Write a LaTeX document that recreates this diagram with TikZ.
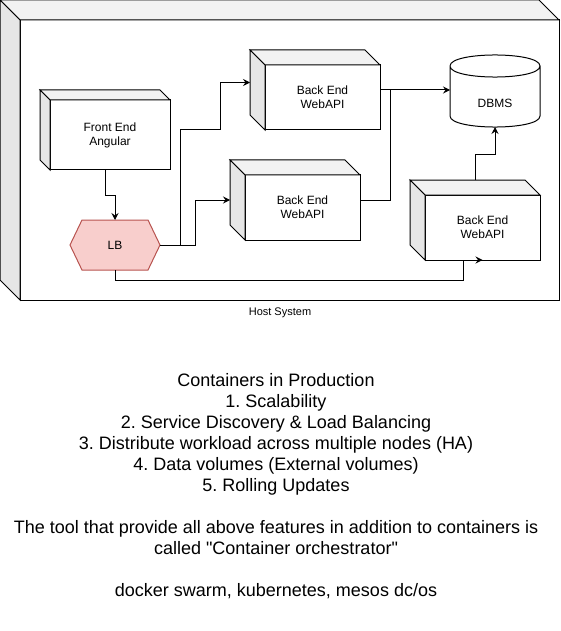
\documentclass[tikz,border=0pt]{standalone}
\usepackage{fontspec}
\setmainfont{Liberation Sans}
\usetikzlibrary{arrows.meta}
\definecolor{cubetop}{HTML}{F2F2F2}
\definecolor{cubeside}{HTML}{E6E6E6}
\definecolor{lbfill}{HTML}{F8CECC}
\definecolor{lbdraw}{HTML}{B85450}
\tikzset{
    face/.style={draw, fill=white, outer sep=0pt, inner sep=0pt, align=center,
        font=\fontsize{12}{14}\selectfont},
    topface/.style={draw, fill=cubetop},
    sideface/.style={draw, fill=cubeside},
    conn/.style={-{Stealth[length=7pt,width=7pt,inset=2.5pt]}},
}
\frenchspacing
\begin{document}
\begin{tikzpicture}[x=1pt, y=-1pt, line width=1pt, line join=miter]
    \useasboundingbox (0,0) rectangle (561,631);
    \node[face, minimum width=539pt, minimum height=280pt] (host) at (289.5,160) {};
    \draw[topface] (host.north west) -- ++(-20,-20) -- ([shift={(-20,-20)}]host.north east) -- (host.north east) -- cycle;
    \draw[sideface] (host.north west) -- ++(-20,-20) -- ([shift={(-20,-20)}]host.south west) -- (host.south west) -- cycle;
    \node[font=\fontsize{11}{13}\selectfont] (hostlbl) at (280,313) {Host System};

    \node[face, minimum width=120pt, minimum height=70pt] (fe) at (110,135) {Front End\\Angular};
    \node[face, minimum width=115pt, minimum height=65pt] (be1) at (322.5,97.5) {Back End\\WebAPI};
    \node[face, minimum width=115pt, minimum height=65pt] (be2) at (302.5,207.5) {Back End\\WebAPI};
    \node[face, minimum width=115pt, minimum height=65pt] (be3) at (482.5,227.5) {Back End\\WebAPI};
    \foreach \n/\d in {fe/10,be1/15,be2/15,be3/15} {
        \draw[topface] (\n.north west) -- ++(-\d,-\d) -- ([shift={(-\d,-\d)}]\n.north east) -- (\n.north east) -- cycle;
        \draw[sideface] (\n.north west) -- ++(-\d,-\d) -- ([shift={(-\d,-\d)}]\n.south west) -- (\n.south west) -- cycle;
    }

    \draw[fill=lbfill, draw=lbdraw]
        (70,245) -- (82,220) -- (148,220) -- (160,245) -- (148,270) -- (82,270) -- cycle;
    \node[font=\fontsize{12}{14}\selectfont, minimum width=90pt, minimum height=50pt, outer sep=0pt] (lb) at (115,245) {LB};

    \draw[fill=white]
        (450,66) -- (450,116) .. controls (450,130.7) and (540,130.7) .. (540,116) -- (540,66)
        .. controls (540,51.3) and (450,51.3) .. (450,66) -- cycle
        (450,66) .. controls (450,80.7) and (540,80.7) .. (540,66);
    \node[minimum width=90pt, minimum height=72pt, outer sep=0pt] (db) at (495,91) {};
    \node[font=\fontsize{12}{14}\selectfont] (dblbl) at (495,103) {DBMS};

    \coordinate (be1in) at ([shift={(-15,-15)}]be1.west);
    \coordinate (be2in) at ([shift={(-15,-7.5)}]be2.west);
    \coordinate (be1out) at ([shift={(0,-7.5)}]be1.east);
    \coordinate (be2out) at ([shift={(0,-7.5)}]be2.east);
    \coordinate (be3top) at ([shift={(-7.5,-15)}]be3.north);

    \draw[conn] ([xshift=-5pt]fe.south) -- ++(0,25) -| (lb.north);
    \draw[conn] (lb.east) -- ++(20,0) |- ([xshift=-45pt]be1.south west) |- (be1in);
    \draw[conn] (lb.east) -- ++(35,0) |- (be2in);
    \draw[conn] (lb.south) -- ++(0,10) -| ([xshift=-19.5pt]be3.south) -- (be3.south);
    \draw[conn] (be1out) -- (be1out -| db.west);
    \draw (be2out) -| ([xshift=10pt]be1out);
    \draw[conn] (be3top) -- ++(0,-25) -| (db.south);

    \node[align=center, inner sep=0pt, font=\fontsize{18}{21}\selectfont] (notes) at (276,486) {
        Containers in Production\\
        1. Scalability\\
        2. Service Discovery \& Load Balancing\\
        3. Distribute workload across multiple nodes (HA)\\
        4. Data volumes (External volumes)\\
        5. Rolling Updates\\[21pt]
        The tool that provide all above features in addition to containers is\\
        called \textquotedbl Container orchestrator\textquotedbl\\[21pt]
        docker swarm, kubernetes, mesos dc/os};
\end{tikzpicture}
\end{document}
